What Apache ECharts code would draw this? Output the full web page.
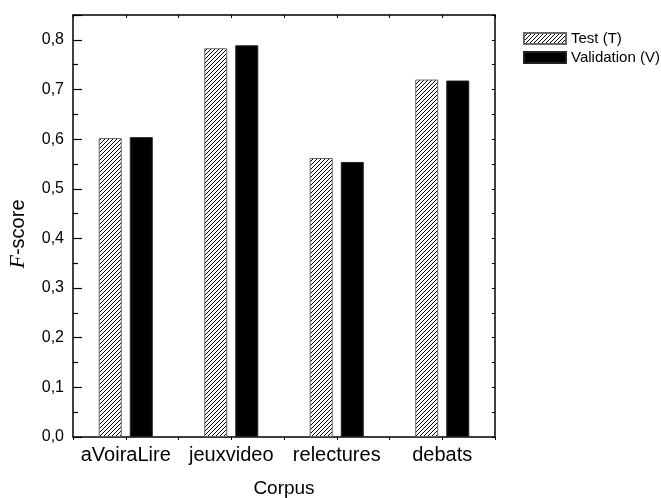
<!DOCTYPE html>
<html>
<head>
<meta charset="utf-8">
<script src="https://cdn.jsdelivr.net/npm/echarts@6/dist/echarts.min.js"></script>
<style>
html,body{margin:0;padding:0;background:#fff;}
#chart{width:661px;height:498px;}
</style>
</head>
<body>
<div id="chart"></div>
<script>
const categories = ['aVoiraLire', 'jeuxvideo', 'relectures', 'debats'];
const testValues = [0.602, 0.783, 0.562, 0.720];
const validationValues = [0.604, 0.789, 0.554, 0.718];
const seriesNames = ['Test (T)', 'Validation (V)'];
const yTicks = [0, 0.1, 0.2, 0.3, 0.4, 0.5, 0.6, 0.7, 0.8];

function hatch() {
  const c = document.createElement('canvas');
  const s = 4;
  c.width = s; c.height = s;
  const g = c.getContext('2d');
  g.fillStyle = '#fff';
  g.fillRect(0, 0, s, s);
  g.strokeStyle = '#000';
  g.lineWidth = 1;
  g.beginPath();
  g.moveTo(-1, s + 1); g.lineTo(s + 1, -1);
  g.moveTo(-1, 1); g.lineTo(1, -1);
  g.moveTo(s - 1, s + 1); g.lineTo(s + 1, s - 1);
  g.stroke();
  return c;
}
const pattern = { image: hatch(), repeat: 'repeat' };
const font = 'Liberation Sans, Arial, sans-serif';
const fmt = v => (yTicks.some(t => Math.abs(t - v) < 1e-9) ? v.toFixed(1).replace('.', ',') : '');

const chart = echarts.init(document.getElementById('chart'), null, { renderer: 'canvas' });
const lineStyle = { color: '#000', width: 1.5 };
chart.setOption({
  animation: false,
  backgroundColor: '#fff',
  grid: { left: 73, right: 166, top: 15, bottom: 61, containLabel: false, outerBoundsMode: 'none' },
  legend: {
    orient: 'vertical', left: 518, top: 26,
    itemWidth: 42, itemHeight: 11, itemGap: 4,
    icon: 'rect',
    textStyle: { fontFamily: font, fontSize: 15, color: '#000' },
    data: seriesNames
  },
  xAxis: [
    { type: 'category', data: categories, position: 'bottom',
      axisLine: { lineStyle }, axisTick: { show: true, inside: false, length: 3, lineStyle: { color: '#000' } },
      axisLabel: { interval: 0, fontFamily: font, fontSize: 20, color: '#000', margin: 8 },
      name: 'Corpus', nameLocation: 'middle', nameGap: 42,
      nameTextStyle: { fontFamily: font, fontSize: 19, color: '#000' } },
    { type: 'category', data: categories, position: 'bottom',
      axisLine: { show: false }, axisTick: { show: true, alignWithLabel: true, inside: false, length: 3, lineStyle: { color: '#000' } },
      axisLabel: { show: false } },
    { type: 'category', data: categories, position: 'top',
      axisLine: { lineStyle }, axisTick: { show: true, inside: true, length: 3, lineStyle: { color: '#000' } },
      axisLabel: { show: false } },
    { type: 'category', data: categories, position: 'top',
      axisLine: { show: false }, axisTick: { show: true, alignWithLabel: true, inside: true, length: 3, lineStyle: { color: '#000' } },
      axisLabel: { show: false } }
  ],
  yAxis: [
    { type: 'value', min: 0, max: 0.85, interval: 0.1, position: 'left',
      axisLine: { show: true, lineStyle }, splitLine: { show: false },
      axisTick: { show: true, inside: true, length: 9, lineStyle: { color: '#000', width: 1.2 } },
      minorTick: { show: true, splitNumber: 2, length: 5, lineStyle: { color: '#000', width: 1.2 } },
      axisLabel: { formatter: fmt, fontFamily: font, fontSize: 16, color: '#000', margin: 9 },
      name: '{i|F}-score', nameLocation: 'middle', nameGap: 44,
      nameTextStyle: { fontFamily: font, fontSize: 20, color: '#000', padding: [0, 16, 0, 0],
        rich: { i: { fontFamily: 'Liberation Serif, Times New Roman, serif', fontStyle: 'italic', fontSize: 22, color: '#000' } } } },
    { type: 'value', min: 0, max: 0.85, interval: 0.1, position: 'right',
      axisLine: { show: true, lineStyle }, splitLine: { show: false },
      axisTick: { show: true, inside: true, length: 3, lineStyle: { color: '#000' } },
      minorTick: { show: true, splitNumber: 2, length: 3, lineStyle: { color: '#000' } },
      axisLabel: { show: false } }
  ],
  series: [
    { name: seriesNames[0], type: 'bar', data: testValues, barWidth: 23, barGap: '35%',
      itemStyle: { color: pattern, borderColor: '#666', borderWidth: 1 } },
    { name: seriesNames[1], type: 'bar', data: validationValues, barWidth: 23, barGap: '35%',
      itemStyle: { color: '#000', borderColor: '#222', borderWidth: 1 } }
  ]
});
</script>
</body>
</html>
